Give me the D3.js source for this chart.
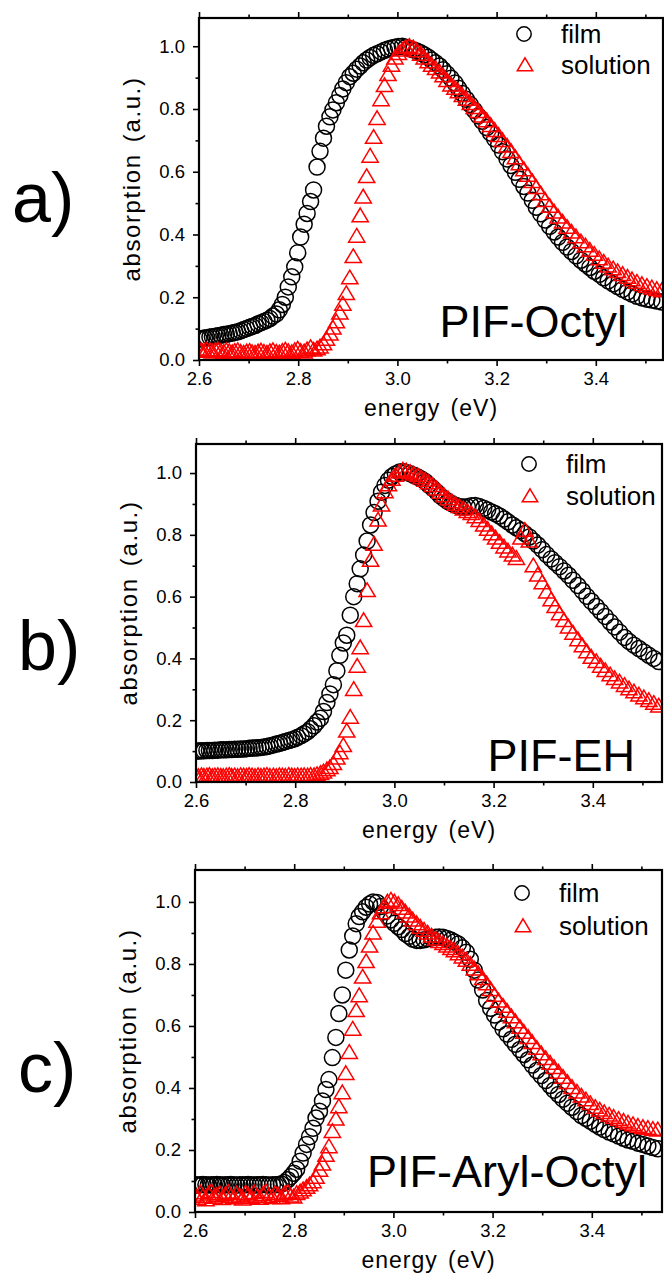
<!DOCTYPE html>
<html>
<head>
<meta charset="utf-8">
<script src="https://cdn.jsdelivr.net/npm/d3@7"></script>
<style>
  body { margin: 0; background: #fff; }
  svg { display: block; font-family: "Liberation Sans", Arial, sans-serif; }
</style>
</head>
<body>
<svg id="chart" width="664" height="1279"></svg>
<script>
// photon energy of each sample (eV), 1 nm steps from 477 nm down to 351 nm
const energy = [
  2.600, 2.605, 2.611, 2.616, 2.622, 2.627, 2.633, 2.638, 2.644, 2.650,
  2.655, 2.661, 2.667, 2.672, 2.678, 2.684, 2.690, 2.696, 2.702, 2.707,
  2.713, 2.719, 2.725, 2.731, 2.737, 2.743, 2.749, 2.756, 2.762, 2.768,
  2.774, 2.780, 2.787, 2.793, 2.799, 2.805, 2.812, 2.818, 2.825, 2.831,
  2.838, 2.844, 2.851, 2.857, 2.864, 2.870, 2.877, 2.884, 2.890, 2.897,
  2.904, 2.911, 2.918, 2.925, 2.931, 2.938, 2.945, 2.952, 2.959, 2.967,
  2.974, 2.981, 2.988, 2.995, 3.002, 3.010, 3.017, 3.024, 3.032, 3.039,
  3.047, 3.054, 3.062, 3.069, 3.077, 3.085, 3.092, 3.100, 3.108, 3.116,
  3.123, 3.131, 3.139, 3.147, 3.155, 3.163, 3.171, 3.180, 3.188, 3.196,
  3.204, 3.212, 3.221, 3.229, 3.238, 3.246, 3.255, 3.263, 3.272, 3.280,
  3.289, 3.298, 3.307, 3.316, 3.324, 3.333, 3.342, 3.351, 3.360, 3.370,
  3.379, 3.388, 3.397, 3.407, 3.416, 3.425, 3.435, 3.444, 3.454, 3.464,
  3.473, 3.483, 3.493, 3.503, 3.513, 3.523, 3.533
]

// a) PIF-Octyl
const filmA = [
  0.067, 0.068, 0.070, 0.071, 0.073, 0.074, 0.076, 0.077, 0.079, 0.081,
  0.082, 0.084, 0.086, 0.088, 0.090, 0.093, 0.097, 0.100, 0.104, 0.107,
  0.110, 0.115, 0.119, 0.123, 0.127, 0.132, 0.140, 0.147, 0.160, 0.177,
  0.200, 0.233, 0.265, 0.297, 0.342, 0.392, 0.433, 0.467, 0.505, 0.542,
  0.615, 0.665, 0.707, 0.745, 0.775, 0.797, 0.820, 0.843, 0.864, 0.884,
  0.903, 0.914, 0.927, 0.937, 0.947, 0.956, 0.964, 0.971, 0.976, 0.982,
  0.987, 0.991, 0.994, 0.997, 0.999, 1.000, 0.997, 0.993, 0.989, 0.985,
  0.979, 0.973, 0.965, 0.956, 0.947, 0.937, 0.925, 0.912, 0.898, 0.883,
  0.866, 0.849, 0.831, 0.814, 0.796, 0.778, 0.761, 0.741, 0.723, 0.705,
  0.685, 0.664, 0.641, 0.620, 0.598, 0.576, 0.553, 0.532, 0.509, 0.487,
  0.466, 0.446, 0.426, 0.408, 0.392, 0.375, 0.360, 0.346, 0.332, 0.318,
  0.306, 0.295, 0.283, 0.273, 0.262, 0.252, 0.243, 0.234, 0.225, 0.217,
  0.210, 0.203, 0.198, 0.194, 0.191, 0.188, 0.185
]
const solutionA = [
  0.035, 0.030, 0.028, 0.032, 0.030, 0.026, 0.030, 0.033, 0.028, 0.025,
  0.030, 0.027, 0.024, 0.028, 0.030, 0.025, 0.022, 0.026, 0.028, 0.024,
  0.022, 0.026, 0.029, 0.025, 0.022, 0.027, 0.030, 0.025, 0.023, 0.028,
  0.032, 0.027, 0.024, 0.030, 0.035, 0.028, 0.026, 0.033, 0.040, 0.032,
  0.036, 0.042, 0.052, 0.066, 0.083, 0.102, 0.122, 0.150, 0.178, 0.212,
  0.262, 0.330, 0.395, 0.460, 0.520, 0.585, 0.650, 0.710, 0.770, 0.830,
  0.875, 0.910, 0.940, 0.963, 0.977, 0.988, 0.996, 1.000, 0.995, 0.986,
  0.975, 0.963, 0.951, 0.940, 0.929, 0.918, 0.906, 0.891, 0.877, 0.866,
  0.855, 0.843, 0.831, 0.818, 0.805, 0.792, 0.778, 0.763, 0.748, 0.732,
  0.716, 0.700, 0.682, 0.665, 0.645, 0.626, 0.607, 0.589, 0.569, 0.550,
  0.530, 0.509, 0.490, 0.472, 0.456, 0.440, 0.423, 0.408, 0.393, 0.377,
  0.364, 0.350, 0.337, 0.323, 0.312, 0.300, 0.291, 0.282, 0.273, 0.264,
  0.256, 0.248, 0.241, 0.235, 0.230, 0.225, 0.221
]

// b) PIF-EH
const filmB = [
  0.100, 0.100, 0.101, 0.101, 0.102, 0.102, 0.102, 0.103, 0.103, 0.104,
  0.104, 0.104, 0.105, 0.105, 0.106, 0.106, 0.107, 0.107, 0.108, 0.109,
  0.110, 0.110, 0.111, 0.112, 0.113, 0.115, 0.117, 0.120, 0.123, 0.125,
  0.128, 0.131, 0.134, 0.137, 0.140, 0.145, 0.150, 0.156, 0.163, 0.172,
  0.182, 0.194, 0.206, 0.228, 0.257, 0.285, 0.315, 0.360, 0.410, 0.450,
  0.475, 0.540, 0.600, 0.642, 0.690, 0.735, 0.780, 0.832, 0.872, 0.909,
  0.938, 0.960, 0.977, 0.989, 0.997, 1.003, 1.005, 1.002, 0.998, 0.993,
  0.987, 0.981, 0.973, 0.962, 0.951, 0.939, 0.927, 0.917, 0.908, 0.901,
  0.896, 0.892, 0.890, 0.891, 0.894, 0.895, 0.892, 0.886, 0.880, 0.874,
  0.868, 0.861, 0.851, 0.842, 0.832, 0.823, 0.814, 0.804, 0.793, 0.780,
  0.767, 0.752, 0.736, 0.722, 0.710, 0.697, 0.683, 0.669, 0.653, 0.636,
  0.619, 0.601, 0.585, 0.568, 0.552, 0.536, 0.518, 0.502, 0.485, 0.468,
  0.455, 0.443, 0.432, 0.421, 0.410, 0.400, 0.390
]
const solutionB = [
  0.020, 0.018, 0.021, 0.019, 0.020, 0.022, 0.018, 0.020, 0.021, 0.019,
  0.018, 0.020, 0.022, 0.019, 0.020, 0.018, 0.021, 0.020, 0.019, 0.022,
  0.020, 0.018, 0.021, 0.019, 0.020, 0.022, 0.019, 0.020, 0.018, 0.021,
  0.020, 0.019, 0.022, 0.020, 0.019, 0.021, 0.020, 0.021, 0.020, 0.022,
  0.021, 0.024, 0.028, 0.033, 0.040, 0.047, 0.060, 0.078, 0.095, 0.118,
  0.165, 0.210, 0.300, 0.375, 0.435, 0.523, 0.620, 0.718, 0.770, 0.848,
  0.897, 0.940, 0.962, 0.980, 0.993, 1.004, 1.010, 1.007, 1.002, 0.997,
  0.992, 0.985, 0.977, 0.969, 0.960, 0.949, 0.938, 0.927, 0.917, 0.907,
  0.899, 0.892, 0.884, 0.876, 0.869, 0.859, 0.847, 0.832, 0.818, 0.804,
  0.790, 0.776, 0.761, 0.748, 0.735, 0.724, 0.790, 0.815, 0.780, 0.700,
  0.670, 0.645, 0.615, 0.590, 0.568, 0.545, 0.523, 0.502, 0.482, 0.461,
  0.441, 0.422, 0.404, 0.390, 0.375, 0.361, 0.347, 0.335, 0.324, 0.313,
  0.302, 0.292, 0.282, 0.273, 0.264, 0.255, 0.246
]

// c) PIF-Aryl-Octyl
const filmC = [
  0.088, 0.087, 0.088, 0.089, 0.088, 0.087, 0.088, 0.088, 0.089, 0.088,
  0.087, 0.088, 0.088, 0.089, 0.088, 0.087, 0.088, 0.088, 0.088, 0.089,
  0.088, 0.087, 0.088, 0.088, 0.089, 0.088, 0.087, 0.088, 0.088, 0.089,
  0.090, 0.095, 0.104, 0.114, 0.125, 0.138, 0.164, 0.190, 0.218, 0.243,
  0.270, 0.303, 0.325, 0.358, 0.395, 0.427, 0.498, 0.563, 0.640, 0.700,
  0.780, 0.845, 0.890, 0.930, 0.953, 0.968, 0.983, 0.993, 1.000, 0.998,
  0.985, 0.968, 0.955, 0.942, 0.931, 0.920, 0.911, 0.898, 0.889, 0.880,
  0.876, 0.876, 0.878, 0.881, 0.884, 0.886, 0.887, 0.886, 0.882, 0.877,
  0.871, 0.864, 0.852, 0.838, 0.815, 0.780, 0.748, 0.716, 0.682, 0.657,
  0.635, 0.613, 0.591, 0.574, 0.557, 0.541, 0.524, 0.508, 0.491, 0.474,
  0.456, 0.440, 0.424, 0.408, 0.393, 0.379, 0.364, 0.351, 0.338, 0.324,
  0.311, 0.302, 0.293, 0.283, 0.274, 0.266, 0.258, 0.252, 0.245, 0.238,
  0.232, 0.228, 0.222, 0.218, 0.213, 0.208, 0.204
]
const solutionC = [
  0.055, 0.045, 0.062, 0.050, 0.040, 0.058, 0.066, 0.048, 0.053, 0.060,
  0.044, 0.056, 0.064, 0.050, 0.046, 0.059, 0.052, 0.042, 0.061, 0.055,
  0.048, 0.063, 0.051, 0.045, 0.057, 0.066, 0.050, 0.047, 0.060, 0.054,
  0.046, 0.058, 0.064, 0.052, 0.049, 0.060, 0.065, 0.072, 0.080, 0.088,
  0.098, 0.112, 0.135, 0.155, 0.183, 0.211, 0.260, 0.300, 0.340, 0.385,
  0.447, 0.515, 0.590, 0.650, 0.698, 0.758, 0.808, 0.858, 0.900, 0.938,
  0.965, 0.985, 1.000, 1.006, 1.000, 0.992, 0.980, 0.968, 0.955, 0.942,
  0.930, 0.919, 0.909, 0.900, 0.890, 0.881, 0.873, 0.866, 0.858, 0.850,
  0.843, 0.833, 0.823, 0.812, 0.799, 0.784, 0.769, 0.753, 0.736, 0.718,
  0.699, 0.681, 0.664, 0.648, 0.630, 0.614, 0.596, 0.580, 0.563, 0.547,
  0.528, 0.511, 0.495, 0.480, 0.466, 0.451, 0.435, 0.418, 0.402, 0.387,
  0.374, 0.362, 0.350, 0.338, 0.329, 0.321, 0.313, 0.306, 0.299, 0.293,
  0.287, 0.282, 0.277, 0.273, 0.270, 0.267, 0.265
]

const xTicks = [2.6, 2.8, 3.0, 3.2, 3.4]
const xMinorTicks = [2.7, 2.9, 3.1, 3.3, 3.5]
const yTicks = [0.0, 0.2, 0.4, 0.6, 0.8, 1.0]
const yMinorTicks = [0.1, 0.3, 0.5, 0.7, 0.9]
const legendKeys = ["film", "solution"]
const xTitle = "energy (eV)"
const yTitle = "absorption (a.u.)"

const black = "#000"
const red = "#ff0000"
const font = "'Liberation Sans', Arial, sans-serif"

const panels = [
  {id: "a", tag: "a)", name: "PIF-Octyl", film: filmA, solution: solutionA,
   left: 199, right: 663, top: 18, bottom: 360, yMax: 1.09,
   tagX: 12, tagY: 222, nameX: 627, nameY: 337, legX: 524, legY: 34, legGap: 31},
  {id: "b", tag: "b)", name: "PIF-EH", film: filmB, solution: solutionB,
   left: 196, right: 662, top: 444, bottom: 782, yMax: 1.094,
   tagX: 18, tagY: 670, nameX: 635, nameY: 771, legX: 529, legY: 464, legGap: 32},
  {id: "c", tag: "c)", name: "PIF-Aryl-Octyl", film: filmC, solution: solutionC,
   left: 195, right: 662, top: 870, bottom: 1212, yMax: 1.103,
   tagX: 18, tagY: 1092, nameX: 647, nameY: 1187, legX: 522, legY: 893, legGap: 33}
]

const triangle = (s) => `M0,${-s}L${s * 1.07},${s * 0.8}L${-s * 1.07},${s * 0.8}Z`

const svg = d3.select("#chart")

svg.append("rect")
    .attr("width", 664)
    .attr("height", 1279)
    .attr("fill", "#fff")

panels.forEach(p => {
    const x = d3.scaleLinear()
        .domain([2.6, 2.6 + (p.right - p.left) / 496])
        .range([p.left, p.right])
    const y = d3.scaleLinear()
        .domain([0, p.yMax])
        .range([p.bottom, p.top])

    const g = svg.append("g").attr("id", "panel-" + p.id)

    g.append("clipPath")
        .attr("id", "clip-" + p.id)
        .append("rect")
            .attr("x", p.left)
            .attr("y", p.top)
            .attr("width", p.right - p.left)
            .attr("height", p.bottom - p.top)

    const marks = g.append("g").attr("clip-path", `url(#clip-${p.id})`)

    marks.selectAll("circle")
        .data(energy.map((e, i) => [e, p.film[i]]))
        .enter()
        .append("circle")
            .attr("cx", d => x(d[0]))
            .attr("cy", d => y(d[1]))
            .attr("r", 8)
            .attr("fill", "none")
            .attr("stroke", black)
            .attr("stroke-width", 1.5)

    marks.selectAll("path")
        .data(energy.map((e, i) => [e, p.solution[i]]))
        .enter()
        .append("path")
            .attr("d", triangle(7.6))
            .attr("transform", d => `translate(${x(d[0])},${y(d[1])})`)
            .attr("fill", "none")
            .attr("stroke", red)
            .attr("stroke-width", 1.5)

    // axes: major and minor ticks pointing outward
    const styleAxis = (sel) => {
        sel.select(".domain").remove()
        sel.selectAll("line").attr("stroke", black).attr("stroke-width", 1.6)
        sel.selectAll("text")
            .attr("fill", black)
            .style("font-family", font)
            .style("font-size", "18.5px")
    }

    g.append("g")
        .attr("transform", `translate(0,${p.bottom})`)
        .call(d3.axisBottom(x).tickValues(xTicks).tickSize(6).tickPadding(6).tickFormat(d3.format(".1f")))
        .call(styleAxis)
    g.append("g")
        .attr("transform", `translate(0,${p.bottom})`)
        .call(d3.axisBottom(x).tickValues(xMinorTicks).tickSize(3.5).tickFormat(""))
        .call(styleAxis)
    g.append("g")
        .attr("transform", `translate(0,${p.top})`)
        .call(d3.axisTop(x).tickValues(xTicks).tickSize(6).tickFormat(""))
        .call(styleAxis)
    g.append("g")
        .attr("transform", `translate(0,${p.top})`)
        .call(d3.axisTop(x).tickValues(xMinorTicks).tickSize(3.5).tickFormat(""))
        .call(styleAxis)
    g.append("g")
        .attr("transform", `translate(${p.left},0)`)
        .call(d3.axisLeft(y).tickValues(yTicks).tickSize(6).tickPadding(8).tickFormat(d3.format(".1f")))
        .call(styleAxis)
    g.append("g")
        .attr("transform", `translate(${p.left},0)`)
        .call(d3.axisLeft(y).tickValues(yMinorTicks).tickSize(3.5).tickFormat(""))
        .call(styleAxis)

    g.append("rect")
        .attr("x", p.left)
        .attr("y", p.top)
        .attr("width", p.right - p.left)
        .attr("height", p.bottom - p.top)
        .attr("fill", "none")
        .attr("stroke", black)
        .attr("stroke-width", 2.2)

    g.append("text")
        .attr("x", (p.left + p.right) / 2)
        .attr("y", p.bottom + 56)
        .attr("text-anchor", "middle")
        .style("font-family", font)
        .style("font-size", "23px")
        .style("letter-spacing", "1px")
        .style("word-spacing", "3px")
        .text(xTitle)

    g.append("text")
        .attr("transform", `translate(${p.left - 59},${(p.top + p.bottom) / 2 - 10}) rotate(-90)`)
        .attr("text-anchor", "middle")
        .style("font-family", font)
        .style("font-size", "24px")
        .style("letter-spacing", "1.6px")
        .style("word-spacing", "3px")
        .text(yTitle)

    g.append("text")
        .attr("x", p.nameX)
        .attr("y", p.nameY)
        .attr("text-anchor", "end")
        .style("font-family", font)
        .style("font-size", "45px")
        .text(p.name)

    g.append("text")
        .attr("x", p.tagX)
        .attr("y", p.tagY)
        .style("font-family", font)
        .style("font-size", "70px")
        .text(p.tag)

    // legend
    const leg = g.append("g")
    leg.append("circle")
        .attr("cx", p.legX)
        .attr("cy", p.legY)
        .attr("r", 7.2)
        .attr("fill", "none")
        .attr("stroke", black)
        .attr("stroke-width", 1.5)
    leg.append("path")
        .attr("d", triangle(7.2))
        .attr("transform", `translate(${p.legX + 1},${p.legY + p.legGap})`)
        .attr("fill", "none")
        .attr("stroke", red)
        .attr("stroke-width", 1.5)
    leg.selectAll("text")
        .data(legendKeys)
        .enter()
        .append("text")
            .attr("x", p.legX + 37)
            .attr("y", (d, i) => p.legY + 9 + i * p.legGap)
            .style("font-family", font)
            .style("font-size", "26px")
            .text(d => d)
})
</script>
</body>
</html>
